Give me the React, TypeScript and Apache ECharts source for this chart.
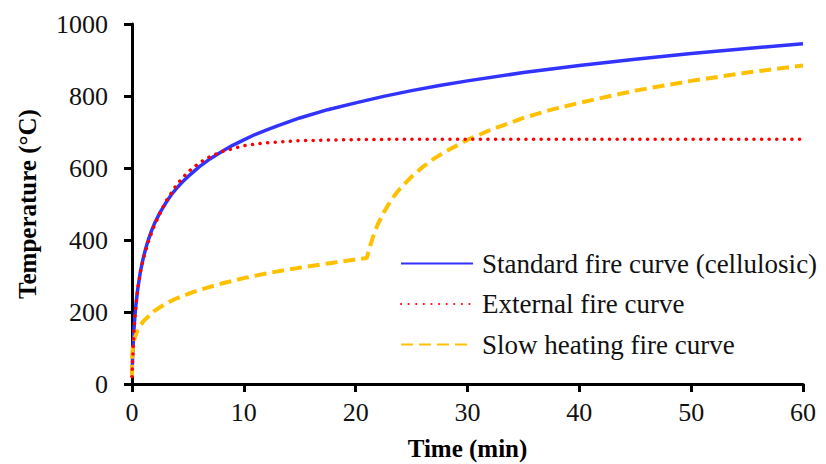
import { useEffect, useRef } from "react";
import * as echarts from "echarts";

// Time (min) and temperature (°C) values
const standardTime = [0, 0.05, 0.1, 0.15, 0.25, 0.35, 0.5, 0.75, 1, 1.25, 1.5, 1.75, 2, 2.5, 3, 3.5, 4, 4.5, 5, 6, 7, 8, 9, 10, 11, 12, 13, 15, 17.5, 20, 22.5, 25, 27.5, 30, 35, 40, 45, 50, 55, 60];
const standardTemp = [20, 70, 108, 138, 185, 220, 261, 312, 349, 379, 404, 426, 445, 476, 502, 525, 544, 561, 576, 603, 626, 645, 663, 678, 693, 705, 717, 739, 762, 781, 799, 815, 829, 842, 865, 885, 902, 918, 932, 945];

const externalTime = [0, 0.05, 0.1, 0.25, 0.5, 0.75, 1, 1.5, 2, 3, 4, 5, 6, 7, 8, 10, 12, 15, 20, 25, 30, 40, 50, 60];
const externalTemp = [20, 63, 100, 182, 263, 311, 346, 399, 441, 506, 554, 589, 614, 632, 645, 662, 670, 676, 679, 680, 680, 680, 680, 680];

const slowTime = [0, 0.02, 0.05, 0.1, 0.25, 0.5, 1, 2, 3, 4, 5, 6, 8, 10, 12, 14, 16, 18, 20, 21, 21.1, 21.25, 21.5, 21.75, 22, 22.5, 23, 23.5, 24, 25, 26, 27, 28, 30, 32, 35, 37.5, 40, 45, 50, 55, 60];
const slowTemp = [20, 78, 93, 107, 129, 150, 174, 203, 223, 238, 250, 261, 279, 294, 307, 318, 328, 337, 346, 350, 362, 379, 404, 426, 445, 476, 502, 525, 544, 576, 603, 626, 645, 678, 705, 739, 762, 781, 815, 842, 865, 885];

const seriesNames = ["Standard fire curve (cellulosic)", "External fire curve", "Slow heating fire curve"];
const xTitle = "Time (min)";
const yTitle = "Temperature (°C)";

const pairs = (xs: number[], ys: number[]) => xs.map((x, i) => [x, ys[i]]);

const FONT = "'Liberation Serif', 'Times New Roman', serif";

export default function App() {
  const ref = useRef<HTMLDivElement>(null);
  useEffect(() => {
    document.body.style.margin = "0";
    const chart = echarts.init(ref.current!, null, { renderer: "svg" });
    const axisCommon = {
      axisLine: { show: true, onZero: false, lineStyle: { color: "#000", width: 3 } },
      axisTick: { show: true, inside: false, length: 8, lineStyle: { color: "#000", width: 3 } },
      splitLine: { show: false },
      nameLocation: "middle" as const,
      nameTextStyle: { fontFamily: FONT, fontWeight: "bold" as const, fontSize: 25, color: "#000" },
    };
    chart.setOption({
      animation: false,
      backgroundColor: "#fff",
      grid: { left: 132, right: 23, top: 24, bottom: 80, containLabel: false, outerBoundsMode: "none" },
      legend: {
        show: true,
        orient: "vertical",
        left: 395,
        top: 245,
        itemWidth: 72,
        itemHeight: 14,
        itemGap: 13.5,
        data: seriesNames,
        itemStyle: { opacity: 0 },
        textStyle: { fontFamily: FONT, fontSize: 27, color: "#111", lineHeight: 26, padding: [0, 0, 0, 4] },
      },
      xAxis: {
        type: "value",
        min: 0,
        max: 60,
        interval: 10,
        name: xTitle,
        nameGap: 52,
        ...axisCommon,
        axisLabel: { fontFamily: FONT, fontSize: 26, color: "#111", margin: 15 },
      },
      yAxis: {
        type: "value",
        min: 0,
        max: 1000,
        interval: 200,
        name: yTitle,
        nameGap: 92,
        ...axisCommon,
        axisLabel: { fontFamily: FONT, fontSize: 26, color: "#111", margin: 24, formatter: (v: number) => String(v) },
      },
      series: [
        {
          name: seriesNames[0],
          type: "line",
          data: pairs(standardTime, standardTemp),
          symbol: "none",
          smooth: false,
          lineStyle: { color: "#3333FF", width: 3.5, type: "solid" },
          itemStyle: { color: "#3333FF" },
          z: 2,
        },
        {
          name: seriesNames[1],
          type: "line",
          data: pairs(externalTime, externalTemp),
          symbol: "none",
          smooth: false,
          lineStyle: { color: "#FF0000", width: 3.5, type: [0.1, 7.5], cap: "round" },
          itemStyle: { color: "#FF0000" },
          z: 3,
        },
        {
          name: seriesNames[2],
          type: "line",
          data: pairs(slowTime, slowTemp),
          symbol: "none",
          smooth: false,
          lineStyle: { color: "#FFC000", width: 4, type: [12, 6] },
          itemStyle: { color: "#FFC000" },
          z: 2,
        },
      ],
    });
    return () => chart.dispose();
  }, []);
  return <div ref={ref} style={{ width: 826, height: 464 }} />;
}
